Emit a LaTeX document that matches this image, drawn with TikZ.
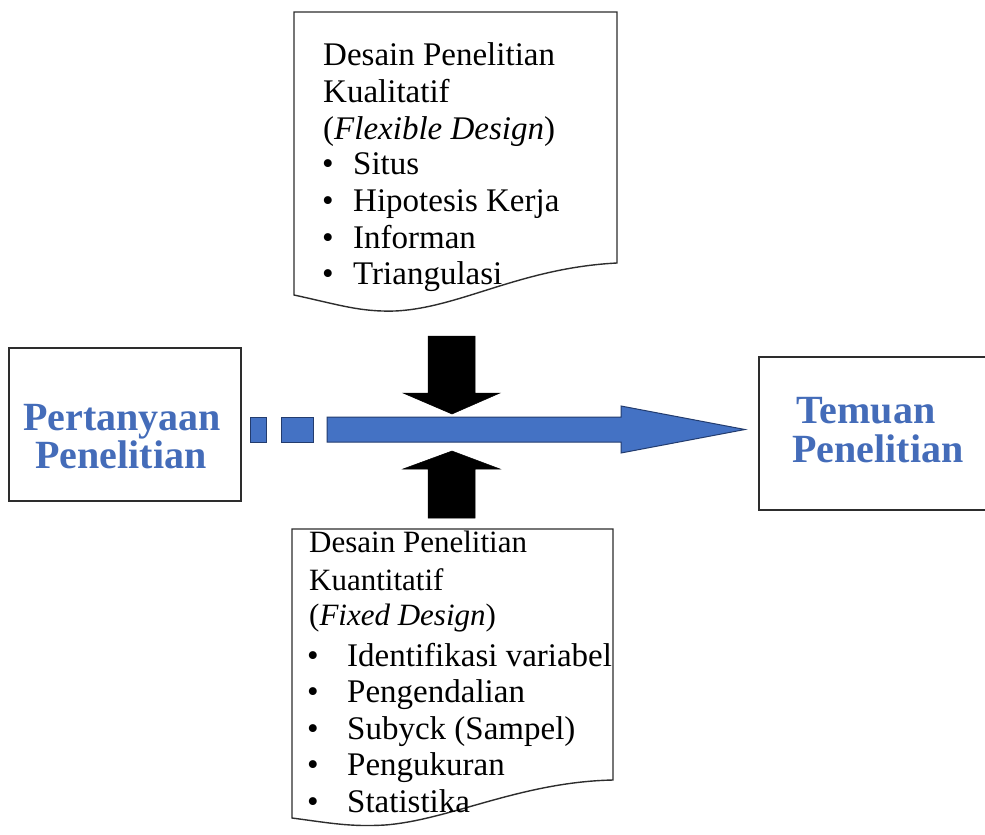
\documentclass[tikz,border=0pt]{standalone}
\usepackage{fontspec}
\setmainfont{Liberation Serif}
\definecolor{boxline}{RGB}{45,45,45}
\definecolor{flowblue}{RGB}{68,114,196}
\definecolor{flowedge}{RGB}{35,60,110}
\definecolor{titleblue}{RGB}{68,108,185}
\tikzset{
  docline/.style={draw=boxline, line width=1.4pt, fill=white},
  framebox/.style={draw=boxline, line width=1.8pt, fill=white, rectangle, inner sep=0pt},
  titletext/.style={text=titleblue, font=\fontsize{40}{40}\selectfont\bfseries, inner sep=0pt, anchor=base},
  toptext/.style={font=\fontsize{33}{36}\selectfont, inner sep=0pt, anchor=base west},
  headtext/.style={font=\fontsize{31}{36}\selectfont, inner sep=0pt, anchor=base west},
  itemtext/.style={font=\fontsize{33}{36}\selectfont, inner sep=0pt, anchor=base west},
  blueblock/.style={fill=flowblue, draw=flowedge, line width=1pt},
  pressarrow/.style={fill=black, draw=black, line width=0.5pt}
}
\begin{document}
\begin{tikzpicture}[x=1pt,y=-1pt]
\clip (0,0) rectangle (985,835);
\fill[white] (0,0) rectangle (985,835);

% qualitative design document
\draw[docline] (294,12) -- (617,12) -- (617,263)
  .. controls (520,268) and (460,308) .. (395,311)
  .. controls (360,312) and (340,305) .. (294,295) -- cycle;
\node[toptext] (q1) at (323,65) {Desain Penelitian};
\node[toptext] (q2) at (323,102) {Kualitatif};
\node[toptext] (q3) at (323,139) {(\textit{Flexible Design})};
\foreach \txt [count=\i] in {Situs, Hipotesis Kerja, Informan, Triangulasi} {
  \node[toptext] (qb\i) at (322,{138+36.7*\i}) {\textbullet};
  \node[toptext] (qi\i) at (353,{138+36.7*\i}) {\txt};
}

% quantitative design document
\draw[docline] (292,529) -- (613,529) -- (613,780)
  .. controls (520,782) and (450,820) .. (385,825)
  .. controls (350,827) and (330,823) .. (292,818) -- cycle;
\node[headtext] (k1) at (309,552) {Desain Penelitian};
\node[headtext] (k2) at (309,590) {Kuantitatif};
\node[headtext] (k3) at (309,625) {(\textit{Fixed Design})};
\foreach \txt [count=\i] in {Identifikasi variabel, Pengendalian, Subyck (Sampel), Pengukuran, Statistika} {
  \node[itemtext] (kb\i) at (307,{630+36.4*\i}) {\textbullet};
  \node[itemtext] (ki\i) at (347,{630+36.4*\i}) {\txt};
}

% start and end boxes
\node[framebox, minimum width=232pt, minimum height=153pt] (question) at (125,424.5) {};
\node[titletext] (question1) at (122,430) {Pertanyaan};
\node[titletext] (question2) at (121,468) {Penelitian};
\node[framebox, minimum width=250pt, minimum height=153pt, anchor=north west] (finding) at (758,356) {};
\node[titletext] (finding1) at (866,423) {Temuan};
\node[titletext] (finding2) at (878,462) {Penelitian};

% research flow arrow: two dashes, then the block arrow
\draw[blueblock] (250,417) rectangle (266,442);
\draw[blueblock] (281,417) rectangle (313,442);
\draw[blueblock] (327,417) -- (621,417) -- (621,406) -- (745,429.5)
  -- (621,453) -- (621,442) -- (327,442) -- cycle;

% design pressure arrows
\draw[pressarrow] (428,336) -- (475,336) -- (475,393) -- (500,393) -- (452,414)
  -- (403,393) -- (428,393) -- cycle;
\draw[pressarrow] (428,518) -- (475,518) -- (475,469) -- (500,469) -- (452,451)
  -- (403,469) -- (428,469) -- cycle;
\end{tikzpicture}
\end{document}
